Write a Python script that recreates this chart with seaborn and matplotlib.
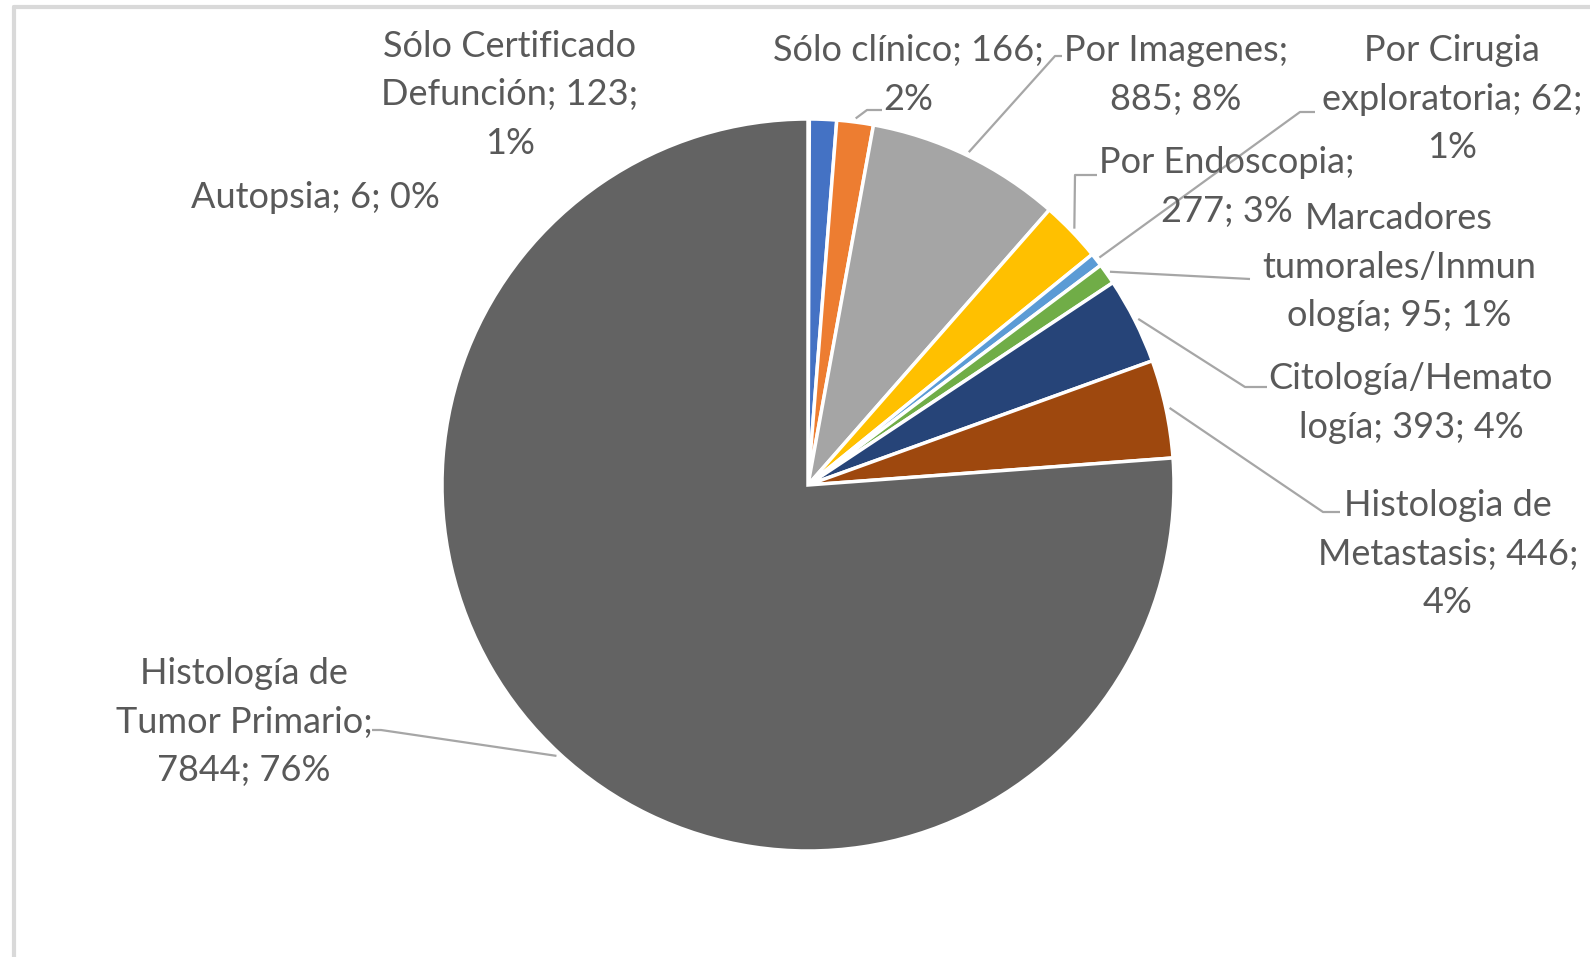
# Pie chart - base de diagnostico
import numpy as np
import matplotlib
matplotlib.use("Agg")
import matplotlib.pyplot as plt
import seaborn as sns

# data
categorias = ["Autopsia", "Sólo Certificado Defunción", "Sólo clínico", "Por Imagenes",
              "Por Endoscopia", "Por Cirugia exploratoria", "Marcadores tumorales/Inmunología",
              "Citología/Hematología", "Histologia de Metastasis", "Histología de Tumor Primario"]
casos = [6, 123, 166, 885, 277, 62, 95, 393, 446, 7844]
etiquetas = ["Autopsia; 6; 0%",
             "Sólo Certificado\nDefunción; 123;\n1%",
             "Sólo clínico; 166;\n2%",
             "Por Imagenes;\n885; 8%",
             "Por Endoscopia;\n277; 3%",
             "Por Cirugia\nexploratoria; 62;\n1%",
             "Marcadores\ntumorales/Inmun\nología; 95; 1%",
             "Citología/Hemato\nlogía; 393; 4%",
             "Histologia de\nMetastasis; 446;\n4%",
             "Histología de\nTumor Primario;\n7844; 76%"]
colores = ["#997300", "#4472C4", "#ED7D31", "#A5A5A5", "#FFC000", "#5B9BD5",
           "#70AD47", "#264478", "#9E480E", "#636363"]

sns.set_theme(style="white")
plt.rcParams['font.family'] = ['Lato', 'DejaVu Sans']

W, H = 1590, 957
fig = plt.figure(figsize=(W / 100, H / 100), dpi=100)
ax = fig.add_axes([0, 0, 1, 1])
ax.set_xlim(0, W)
ax.set_ylim(0, H)
ax.set_aspect('equal')
ax.axis('off')

def Y(y):
    # pixel row (from top) -> data y
    return H - y

cx, cy, R = 808, 485, 366
wedges, _ = ax.pie(casos, colors=sns.color_palette(colores), startangle=90, counterclock=False,
                   center=(cx, Y(cy)), radius=R,
                   wedgeprops=dict(edgecolor='white', linewidth=2.5))
ax.set_xlim(0, W)
ax.set_ylim(0, H)

# label positions (center of text block) and leader knee/end points
pos = [(315, 198), (510, 95), (908, 75), (1176, 75), (1227, 187),
       (1452, 99), (1399, 267), (1411, 403), (1448, 554), (244, 722)]
leaders = {
    2: [(867, 110), (882, 110)],
    3: [(1055, 56), (1062, 56)],
    4: [(1075, 175), (1097, 175)],
    5: [(1300, 112), (1315, 112)],
    6: [(1250, 279)],
    7: [(1245, 387), (1267, 387)],
    8: [(1323, 512), (1340, 512)],
    9: [(381, 730), (372, 730)],
}

txt = '#595959'
for i, (lab, (x, y)) in enumerate(zip(etiquetas, pos)):
    ax.text(x, Y(y), lab, ha='center', va='center', fontsize=26, color=txt,
            linespacing=1.57)

for i, pts in leaders.items():
    w = wedges[i]
    mid = np.deg2rad((w.theta1 + w.theta2) / 2)
    ax0 = cx + 1.01 * R * np.cos(mid)
    ay0 = Y(cy) + 1.01 * R * np.sin(mid)
    xs = [ax0] + [p[0] for p in pts]
    ys = [ay0] + [Y(p[1]) for p in pts]
    ax.plot(xs, ys, color='#A6A6A6', lw=1.6, solid_capstyle='butt')

# chart area border (left and top visible)
ax.plot([14, 14], [Y(7), -5], color='#D9D9D9', lw=3)
ax.plot([14, W + 5], [Y(7), Y(7)], color='#D9D9D9', lw=3)

fig.savefig('out.png', dpi=100, facecolor='white')
